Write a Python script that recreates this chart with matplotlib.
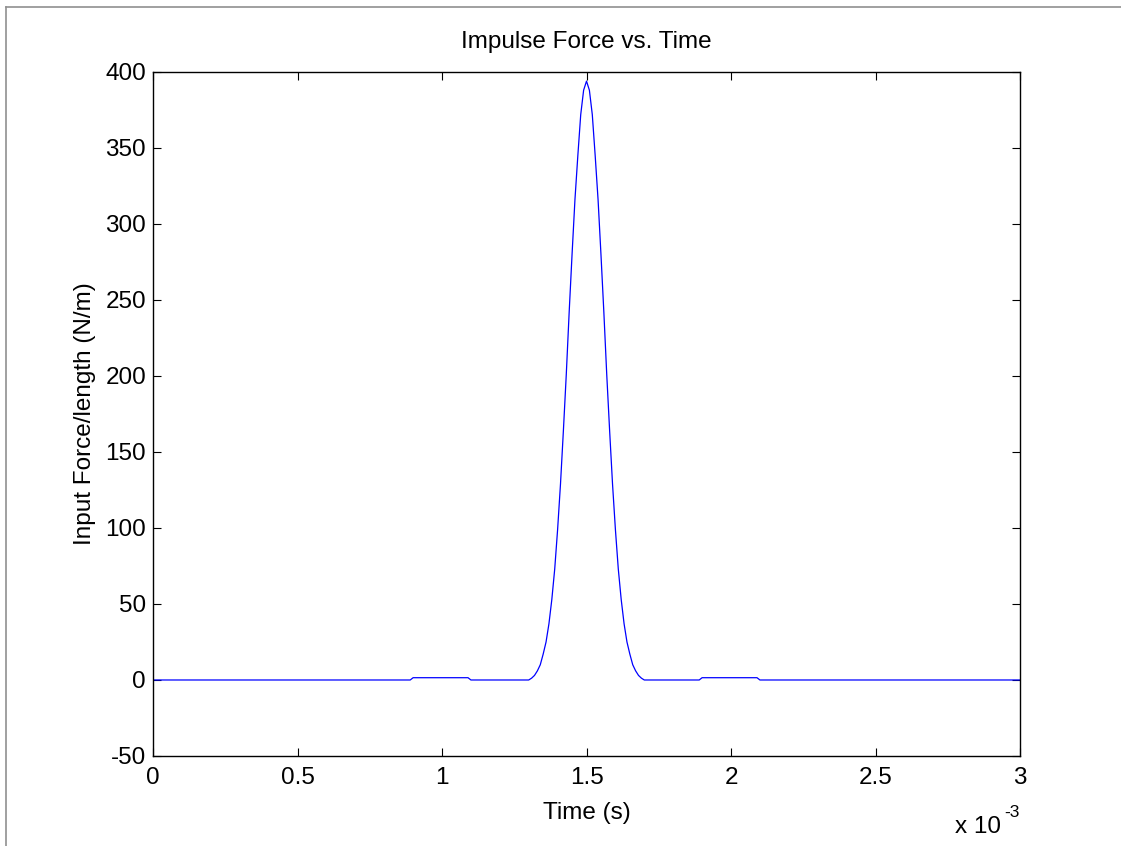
import numpy as np
import matplotlib
matplotlib.use('Agg')
import matplotlib.pyplot as plt
from matplotlib.lines import Line2D

plt.rcParams['font.family'] = ['Liberation Sans', 'DejaVu Sans']
plt.rcParams['axes.unicode_minus'] = False

# time in ms (shown as x 10^-3 s), force per length in N/m
time_ms = [0.0, 0.89, 0.90, 1.09, 1.10,
           1.30, 1.31, 1.32, 1.33, 1.34, 1.35, 1.36, 1.37, 1.38, 1.39,
           1.40, 1.41, 1.42, 1.43, 1.44, 1.45, 1.46, 1.47, 1.48, 1.49,
           1.50, 1.51, 1.52, 1.53, 1.54, 1.55, 1.56, 1.57, 1.58, 1.59,
           1.60, 1.61, 1.62, 1.63, 1.64, 1.65, 1.66, 1.67, 1.68, 1.69,
           1.70, 1.89, 1.90, 2.09, 2.10, 3.0]
force = [0.0, 0.0, 1.5, 1.5, 0.0,
         0.0, 1.2, 3.0, 6.0, 10.0, 17.0, 25.0, 37.0, 53.0, 73.0,
         99.0, 129.0, 164.0, 201.0, 242.0, 280.0, 316.0, 345.0, 372.0, 388.0,
         394.0, 388.0, 372.0, 345.0, 316.0, 280.0, 242.0, 201.0, 164.0, 129.0,
         99.0, 73.0, 53.0, 37.0, 25.0, 17.0, 10.0, 6.0, 3.0, 1.2,
         0.0, 0.0, 1.5, 1.5, 0.0, 0.0]

x_ticks = [0, 0.5, 1, 1.5, 2, 2.5, 3]
x_tick_labels = ['0', '0.5', '1', '1.5', '2', '2.5', '3']
y_ticks = [-50, 0, 50, 100, 150, 200, 250, 300, 350, 400]

fig = plt.figure(figsize=(11.21, 8.46), dpi=100)
ax = fig.add_axes([0.1365, 0.1064, 0.7734, 0.8085])

ax.plot(time_ms, force, color='#0000ff', linewidth=0.9)

ax.set_xlim(0, 3)
ax.set_ylim(-50, 400)
ax.set_xticks(x_ticks)
ax.set_xticklabels(x_tick_labels)
ax.set_yticks(y_ticks)
ax.tick_params(direction='in', length=6, width=0.8, labelsize=17.5,
               top=True, right=True)
ax.tick_params(axis='x', pad=8)
ax.tick_params(axis='y', pad=5)
for s in ax.spines.values():
    s.set_linewidth(1.0)

ax.set_title('Impulse Force vs. Time', fontsize=17.5, pad=17)
ax.set_xlabel('Time (s)', fontsize=17.5, labelpad=9)
ax.set_ylabel('Input Force/length (N/m)', fontsize=17.5, labelpad=7)

# exponent label, drawn as plain text
fig.text(955 / 1121, 1 - 833 / 846, 'x 10', fontsize=17.5,
         ha='left', va='baseline')
fig.text(1004 / 1121, 1 - 817 / 846, '-3', fontsize=12.5,
         ha='left', va='baseline')

# grey frame lines (left and top edge of the exported image)
fig.add_artist(Line2D([6 / 1121, 6 / 1121], [0, 1 - 7 / 846],
                      transform=fig.transFigure, color='#909090', linewidth=1.2))
fig.add_artist(Line2D([6 / 1121, 1], [1 - 7 / 846, 1 - 7 / 846],
                      transform=fig.transFigure, color='#909090', linewidth=1.2))

fig.savefig('out.png', dpi=100)
